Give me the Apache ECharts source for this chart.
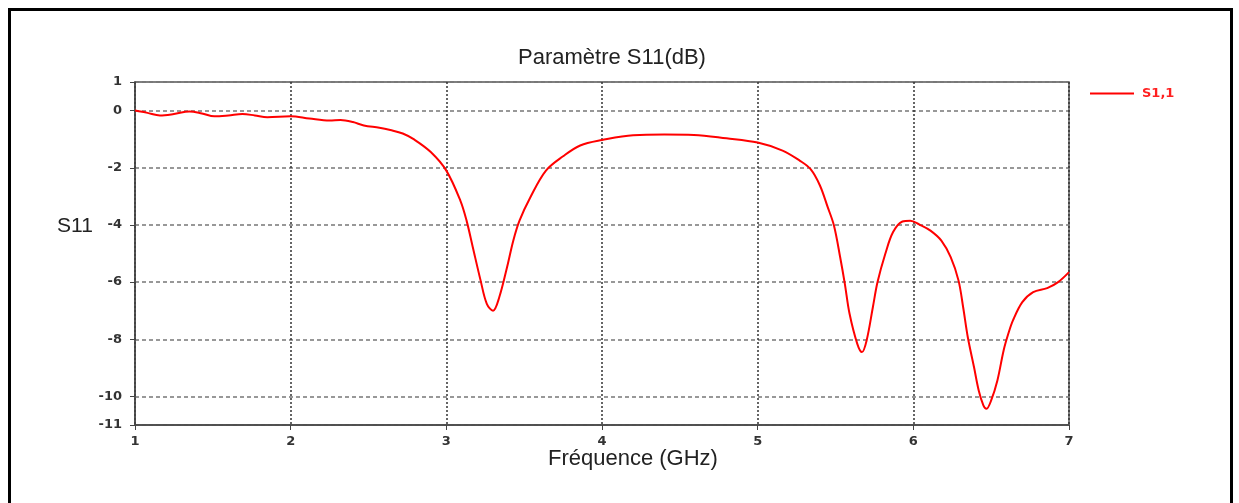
<!DOCTYPE html>
<html>
<head>
<meta charset="utf-8">
<script src="https://cdn.jsdelivr.net/npm/echarts@6/dist/echarts.min.js"></script>
<style>
  html, body { margin: 0; padding: 0; background: #fff; }
  #chart { width: 1239px; height: 503px; }
</style>
</head>
<body>
<div id="chart"></div>
<script>
// Frequency (GHz) and S11 (dB)
let freq = [1.0, 1.08, 1.16, 1.25, 1.35, 1.43, 1.51, 1.6, 1.69, 1.77, 1.85, 2.0, 2.12, 2.25, 2.32, 2.4, 2.47,
    2.57, 2.64, 2.72, 2.79, 2.9, 3.0, 3.09, 3.13, 3.17, 3.22, 3.26, 3.30, 3.34, 3.39, 3.43, 3.47, 3.54,
    3.64, 3.75, 3.86, 4.0, 4.2, 4.4, 4.59, 4.8, 5.0, 5.16, 5.27, 5.34, 5.40, 5.45, 5.49, 5.53, 5.56,
    5.59, 5.64, 5.67, 5.70, 5.74, 5.77, 5.82, 5.87, 5.93, 5.98, 6.04, 6.11, 6.18, 6.24, 6.29, 6.32,
    6.35, 6.39, 6.42, 6.45, 6.47, 6.50, 6.54, 6.58, 6.61, 6.64, 6.70, 6.77, 6.86, 6.93, 7.0];
let s11 = [0, -0.08, -0.17, -0.12, -0.03, -0.1, -0.2, -0.17, -0.12, -0.17, -0.23, -0.2, -0.28, -0.35, -0.33, -0.4, -0.52,
    -0.6, -0.68, -0.8, -1.0, -1.45, -2.1, -3.15, -3.85, -4.78, -5.94, -6.76, -7.0, -6.53, -5.48, -4.55, -3.85, -3.03,
    -2.1, -1.6, -1.22, -1.03, -0.86, -0.84, -0.85, -0.97, -1.12, -1.4, -1.75, -2.05, -2.62, -3.38, -4.02, -5.13, -6.06,
    -7.1, -8.16, -8.45, -8.04, -6.88, -6.0, -5.01, -4.25, -3.88, -3.85, -3.99, -4.2, -4.55, -5.13, -5.94, -6.88,
    -7.93, -8.98, -9.79, -10.31, -10.43, -10.14, -9.44, -8.39, -7.81, -7.34, -6.70, -6.35, -6.21, -6.0, -5.65];

let y_ticks = [1, 0, -2, -4, -6, -8, -10, -11];

const LABEL_STYLE = {
    color: '#333',
    fontFamily: 'DejaVu Sans',
    fontWeight: 'bold',
    fontSize: 13
};

let chart = echarts.init(document.getElementById('chart'));

let points = [];
for (let i = 0; i < freq.length; i++) {
    points.push([freq[i], s11[i]]);
}

chart.setOption({
    animation: false,
    title: {
        text: 'Paramètre S11(dB)',
        left: 607,
        top: 42,
        textAlign: 'center',
        textStyle: {
            fontFamily: 'Liberation Sans',
            fontWeight: 'normal',
            fontSize: 22,
            color: '#222'
        }
    },
    legend: {
        left: 1085,
        top: 82,
        icon: 'rect',
        itemWidth: 44,
        itemHeight: 2,
        itemGap: 5,
        textStyle: {
            color: '#ff2020',
            fontFamily: 'DejaVu Sans',
            fontWeight: 'bold',
            fontSize: 13,
            padding: [0, 0, 0, 3]
        },
        data: ['S1,1']
    },
    grid: {
        left: 135,
        right: 170,
        top: 82,
        bottom: 78,
        show: true,
        borderColor: '#555',
        borderWidth: 1.5
    },
    xAxis: {
        type: 'value',
        min: 1,
        max: 7,
        interval: 1,
        axisLine: { onZero: false, lineStyle: { color: '#444', width: 1.5 } },
        axisTick: { show: true, length: 5, lineStyle: { color: '#444' } },
        axisLabel: Object.assign({ margin: 10 }, LABEL_STYLE),
        splitLine: {
            show: true,
            lineStyle: { color: '#333', type: [2, 2], width: 1.5 }
        }
    },
    yAxis: {
        type: 'value',
        min: -11,
        max: 1,
        interval: 1,
        axisLine: { show: true, onZero: false, lineStyle: { color: '#444', width: 1.5 } },
        axisTick: { show: true, length: 5, customValues: y_ticks, lineStyle: { color: '#444' } },
        axisLabel: Object.assign({ margin: 13, customValues: y_ticks }, LABEL_STYLE),
        splitLine: {
            show: true,
            lineStyle: { color: '#777', type: [4, 3], width: 1.5 }
        }
    },
    graphic: [
        {
            type: 'rect',
            shape: { x: 9.5, y: 9.5, width: 1222, height: 600 },
            style: { fill: null, stroke: '#000', lineWidth: 3 },
            silent: true
        },
        {
            type: 'text',
            left: 57,
            top: 216,
            style: { text: 'S11', fontFamily: 'Liberation Sans', fontSize: 21, fill: '#222' }
        },
        {
            type: 'text',
            left: 548,
            top: 448,
            style: { text: 'Fréquence (GHz)', fontFamily: 'Liberation Sans', fontSize: 22, fill: '#222' }
        }
    ],
    series: [
        {
            name: 'S1,1',
            type: 'line',
            data: points,
            symbol: 'none',
            smooth: 0.35,
            lineStyle: { color: '#ff0000', width: 2 },
            itemStyle: { color: '#ff0000' }
        }
    ]
});

window.addEventListener('resize', function () {
    chart.resize();
});
</script>
</body>
</html>
